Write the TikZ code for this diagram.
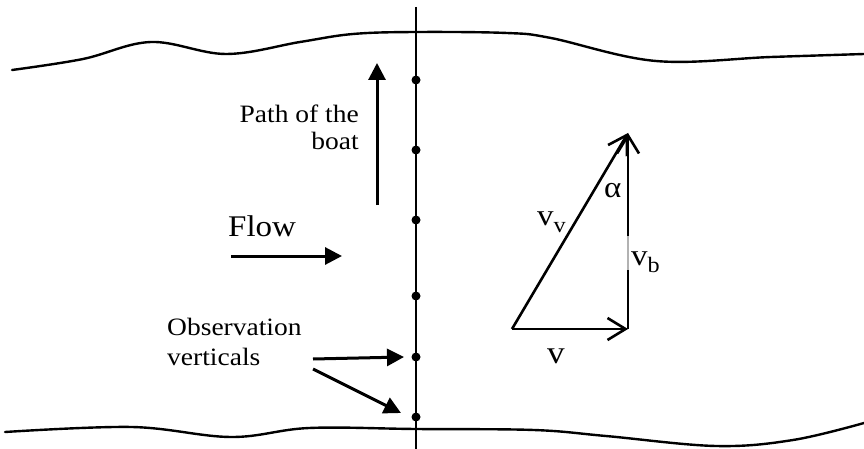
\documentclass[tikz,border=0pt]{standalone}
\usepackage{fontspec}
\setmainfont{Liberation Serif}[FakeStretch=1.1]
\usetikzlibrary{arrows.meta}
\newcommand\lblsub[1]{\raisebox{-0.25em}{\fontsize{22}{22}\selectfont #1}}
\begin{document}
\begin{tikzpicture}[x=1pt,y=-1pt,
  bank/.style={line width=2.4pt, line cap=round, line join=round},
  solidarrow/.style={line width=3pt, -{Triangle[length=17pt,width=17pt]}},
  openarrow/.style={line width=2.6pt, -{Straight Barb[length=18pt,width=22pt]}},
  dot/.style={circle, fill=black, inner sep=0pt, minimum width=8pt, minimum height=9pt},
  lbl/.style={inner sep=0pt, font=\fontsize{25}{27}\selectfont},
  vlbl/.style={inner sep=0pt, font=\fontsize{30}{32}\selectfont},
]
\useasboundingbox (0,0) rectangle (864,449);

% river banks
\draw[bank] plot[smooth, tension=0.6] coordinates {(12,70) (83,59) (151,42) (226,54) (300,42) (353,34) (416,32) (507,33) (551,38) (656,61) (771,57) (864,54)};
\draw[bank] plot[smooth, tension=0.6] coordinates {(5,432) (132,427) (231,437) (309,428) (416,429) (534,430) (606,436) (716,446) (793,440) (864,423)};

% measuring section
\coordinate (vt) at (416,7);
\coordinate (vb) at (416,449);
\draw[line width=1.3pt] (vt) -- (vb);
\node[dot] (d1) at (416,80) {};
\node[dot] (d2) at (416,150) {};
\node[dot] (d3) at (416,220) {};
\node[dot] (d4) at (416,296) {};
\node[dot] (d5) at (416,357) {};
\node[dot] (d6) at (416,417) {};

% path of the boat
\coordinate (b0) at (377,205);
\coordinate (b1) at (377,63);
\draw[solidarrow] (b0) -- (b1);
\node[lbl, anchor=north east, align=right] (path) at (359,105) {Path of the\\boat};

% flow
\node[inner sep=0pt, anchor=base west, font=\fontsize{30}{34}\selectfont] (flow) at (228,236) {Flow};
\coordinate (f0) at (231,256);
\coordinate (f1) at (342,256);
\draw[solidarrow] (f0) -- (f1);

% observation verticals
\node[lbl, anchor=north west, align=left] (obs) at (167,318) {Observation\\[3pt]verticals};
\coordinate (o1) at (313,359);
\coordinate (o1e) at (404,357);
\coordinate (o2) at (313,369);
\coordinate (o2e) at (401,413);
\draw[solidarrow] (o1) -- (o1e);
\draw[solidarrow] (o2) -- (o2e);

% velocity triangle
\coordinate (A) at (512,329);
\coordinate (B) at (628,329);
\coordinate (C) at (628,133);
\draw[openarrow] (A) -- (B);
\draw[openarrow] (B) -- (C);
\draw[openarrow] (A) -- (C);
\draw[line width=2.6pt, gray!60] (628,236) -- (628,270);

\node[vlbl, anchor=base west] (lv) at (547,363) {\fontsize{32}{34}\selectfont v};
\node[vlbl, anchor=base west] (lvv) at (537,225) {v\lblsub{v}};
\node[vlbl, anchor=base west] (lvb) at (631,265) {v\lblsub{b}};
\node[vlbl, anchor=base west] (la) at (604,197) {α};
\end{tikzpicture}
\end{document}
